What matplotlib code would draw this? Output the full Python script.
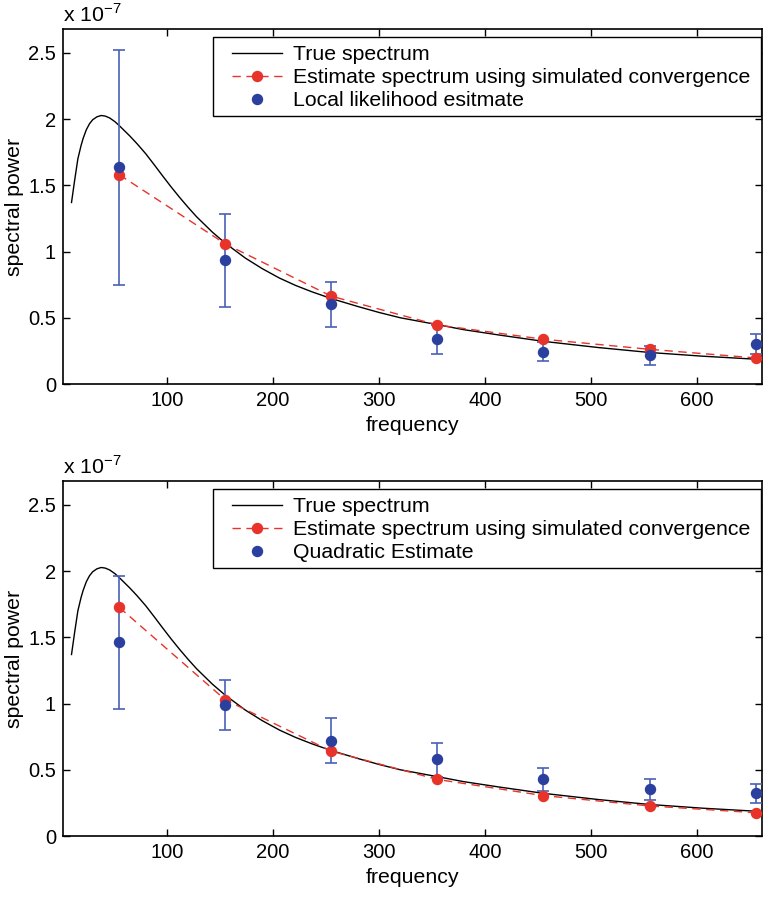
import matplotlib
matplotlib.use('Agg')
import matplotlib.pyplot as plt
from matplotlib.patches import Rectangle

plt.rcParams['font.family'] = ['Liberation Sans', 'DejaVu Sans']
plt.rcParams['mathtext.fontset'] = 'custom'
plt.rcParams['mathtext.rm'] = 'Liberation Sans'

# all powers in units of 1e-7
true_freq = [10, 13, 16, 19, 21, 24, 27, 30, 34, 38, 42, 46, 51, 56, 65, 72, 80, 88,
             96, 104, 112, 120, 128, 143, 155, 174, 190, 206, 221, 237, 255, 280, 300,
             320, 355, 380, 413, 455, 507, 555, 605, 660]
true_power = [1.37, 1.54, 1.70, 1.80, 1.855, 1.92, 1.965, 1.995, 2.017, 2.027, 2.022,
              2.008, 1.98, 1.943, 1.872, 1.812, 1.738, 1.655, 1.57, 1.487, 1.408, 1.333,
              1.262, 1.145, 1.063, 0.95, 0.87, 0.80, 0.745, 0.695, 0.645, 0.585, 0.54,
              0.50, 0.448, 0.41, 0.37, 0.322, 0.275, 0.238, 0.21, 0.185]

est_freq = [55, 155, 255, 355, 455, 555, 655]

# top panel
sim_top = [1.58, 1.058, 0.663, 0.446, 0.338, 0.262, 0.197]
local_est = [1.638, 0.935, 0.602, 0.338, 0.244, 0.217, 0.302]
local_lo = [0.75, 0.58, 0.433, 0.227, 0.174, 0.146, 0.227]
local_hi = [2.52, 1.287, 0.771, 0.446, 0.315, 0.287, 0.378]

# bottom panel
sim_bot = [1.726, 1.028, 0.64, 0.427, 0.305, 0.227, 0.176]
quad_est = [1.461, 0.990, 0.72, 0.578, 0.427, 0.353, 0.323]
quad_lo = [0.957, 0.799, 0.549, 0.448, 0.338, 0.272, 0.252]
quad_hi = [1.965, 1.179, 0.892, 0.705, 0.516, 0.431, 0.391]

x_ticks = [100, 200, 300, 400, 500, 600]
y_ticks = [0, 0.5, 1, 1.5, 2, 2.5]
y_tick_labels = ['0', '0.5', '1', '1.5', '2', '2.5']

RED = '#e8332b'
BLUE = '#2b3f9f'
BAR_BLUE = '#4a60b8'
TICK_FS = 14.5
FS = 15.3


def draw_panel(ax, sim, est, lo, hi, est_label, zero_line=False):
    if zero_line:
        ax.axhline(0, color='#b0b0b0', lw=1.0, dashes=(5, 4), zorder=1)
    ax.plot(true_freq, true_power, color='black', lw=1.0, label='True spectrum', zorder=2)
    yerr = [[e - l for e, l in zip(est, lo)], [h - e for e, h in zip(est, hi)]]
    ax.errorbar(est_freq, est, yerr=yerr, fmt='none', ecolor=BAR_BLUE, elinewidth=1.2,
                capsize=4.5, capthick=1.2, zorder=3)
    ax.plot(est_freq, sim, color=RED, lw=1.0, dashes=(6, 4), marker='o', ms=7.2,
            label='Estimate spectrum using simulated convergence', zorder=4)
    ax.plot(est_freq, est, 'o', color=BLUE, ms=7.2, label=est_label, zorder=5)

    ax.set_xlim(2, 661)
    ax.set_ylim(0, 2.68)
    ax.set_xticks(x_ticks)
    ax.set_yticks(y_ticks)
    ax.set_yticklabels(y_tick_labels)
    ax.tick_params(direction='in', top=True, right=True, length=5, width=1,
                   labelsize=TICK_FS, pad=5)
    for s in ax.spines.values():
        s.set_linewidth(1.2)
    ax.set_xlabel('frequency', fontsize=FS, labelpad=4)
    ax.set_ylabel('spectral power', fontsize=FS)
    ax.yaxis.set_label_coords(-0.056, 0.5)
    ax.text(0, 1.02, r'x 10$^{\mathregular{-7}}$', transform=ax.transAxes,
            fontsize=FS, va='baseline', ha='left')

    # legend box drawn by hand so the padding can differ per side
    ax.add_patch(Rectangle((0.2146, 0.755), 0.784, 0.222, transform=ax.transAxes,
                           facecolor='white', edgecolor='black', lw=1.0,
                           zorder=6, clip_on=False))
    leg = ax.legend(loc='upper left', bbox_to_anchor=(0.2418, 0.955), fontsize=FS,
                    frameon=False, borderaxespad=0, borderpad=0,
                    handlelength=2.35, handletextpad=0.53,
                    labelspacing=0.2, numpoints=1)
    leg.set_zorder(7)


fig = plt.figure(figsize=(7.63, 8.97), dpi=100)
ax1 = fig.add_axes([0.0826, 0.5719, 0.916, 0.3958])
ax2 = fig.add_axes([0.0826, 0.068, 0.916, 0.3958])

draw_panel(ax1, sim_top, local_est, local_lo, local_hi, 'Local likelihood esitmate')
draw_panel(ax2, sim_bot, quad_est, quad_lo, quad_hi, 'Quadratic Estimate', zero_line=True)

fig.savefig('out.png', dpi=100)
